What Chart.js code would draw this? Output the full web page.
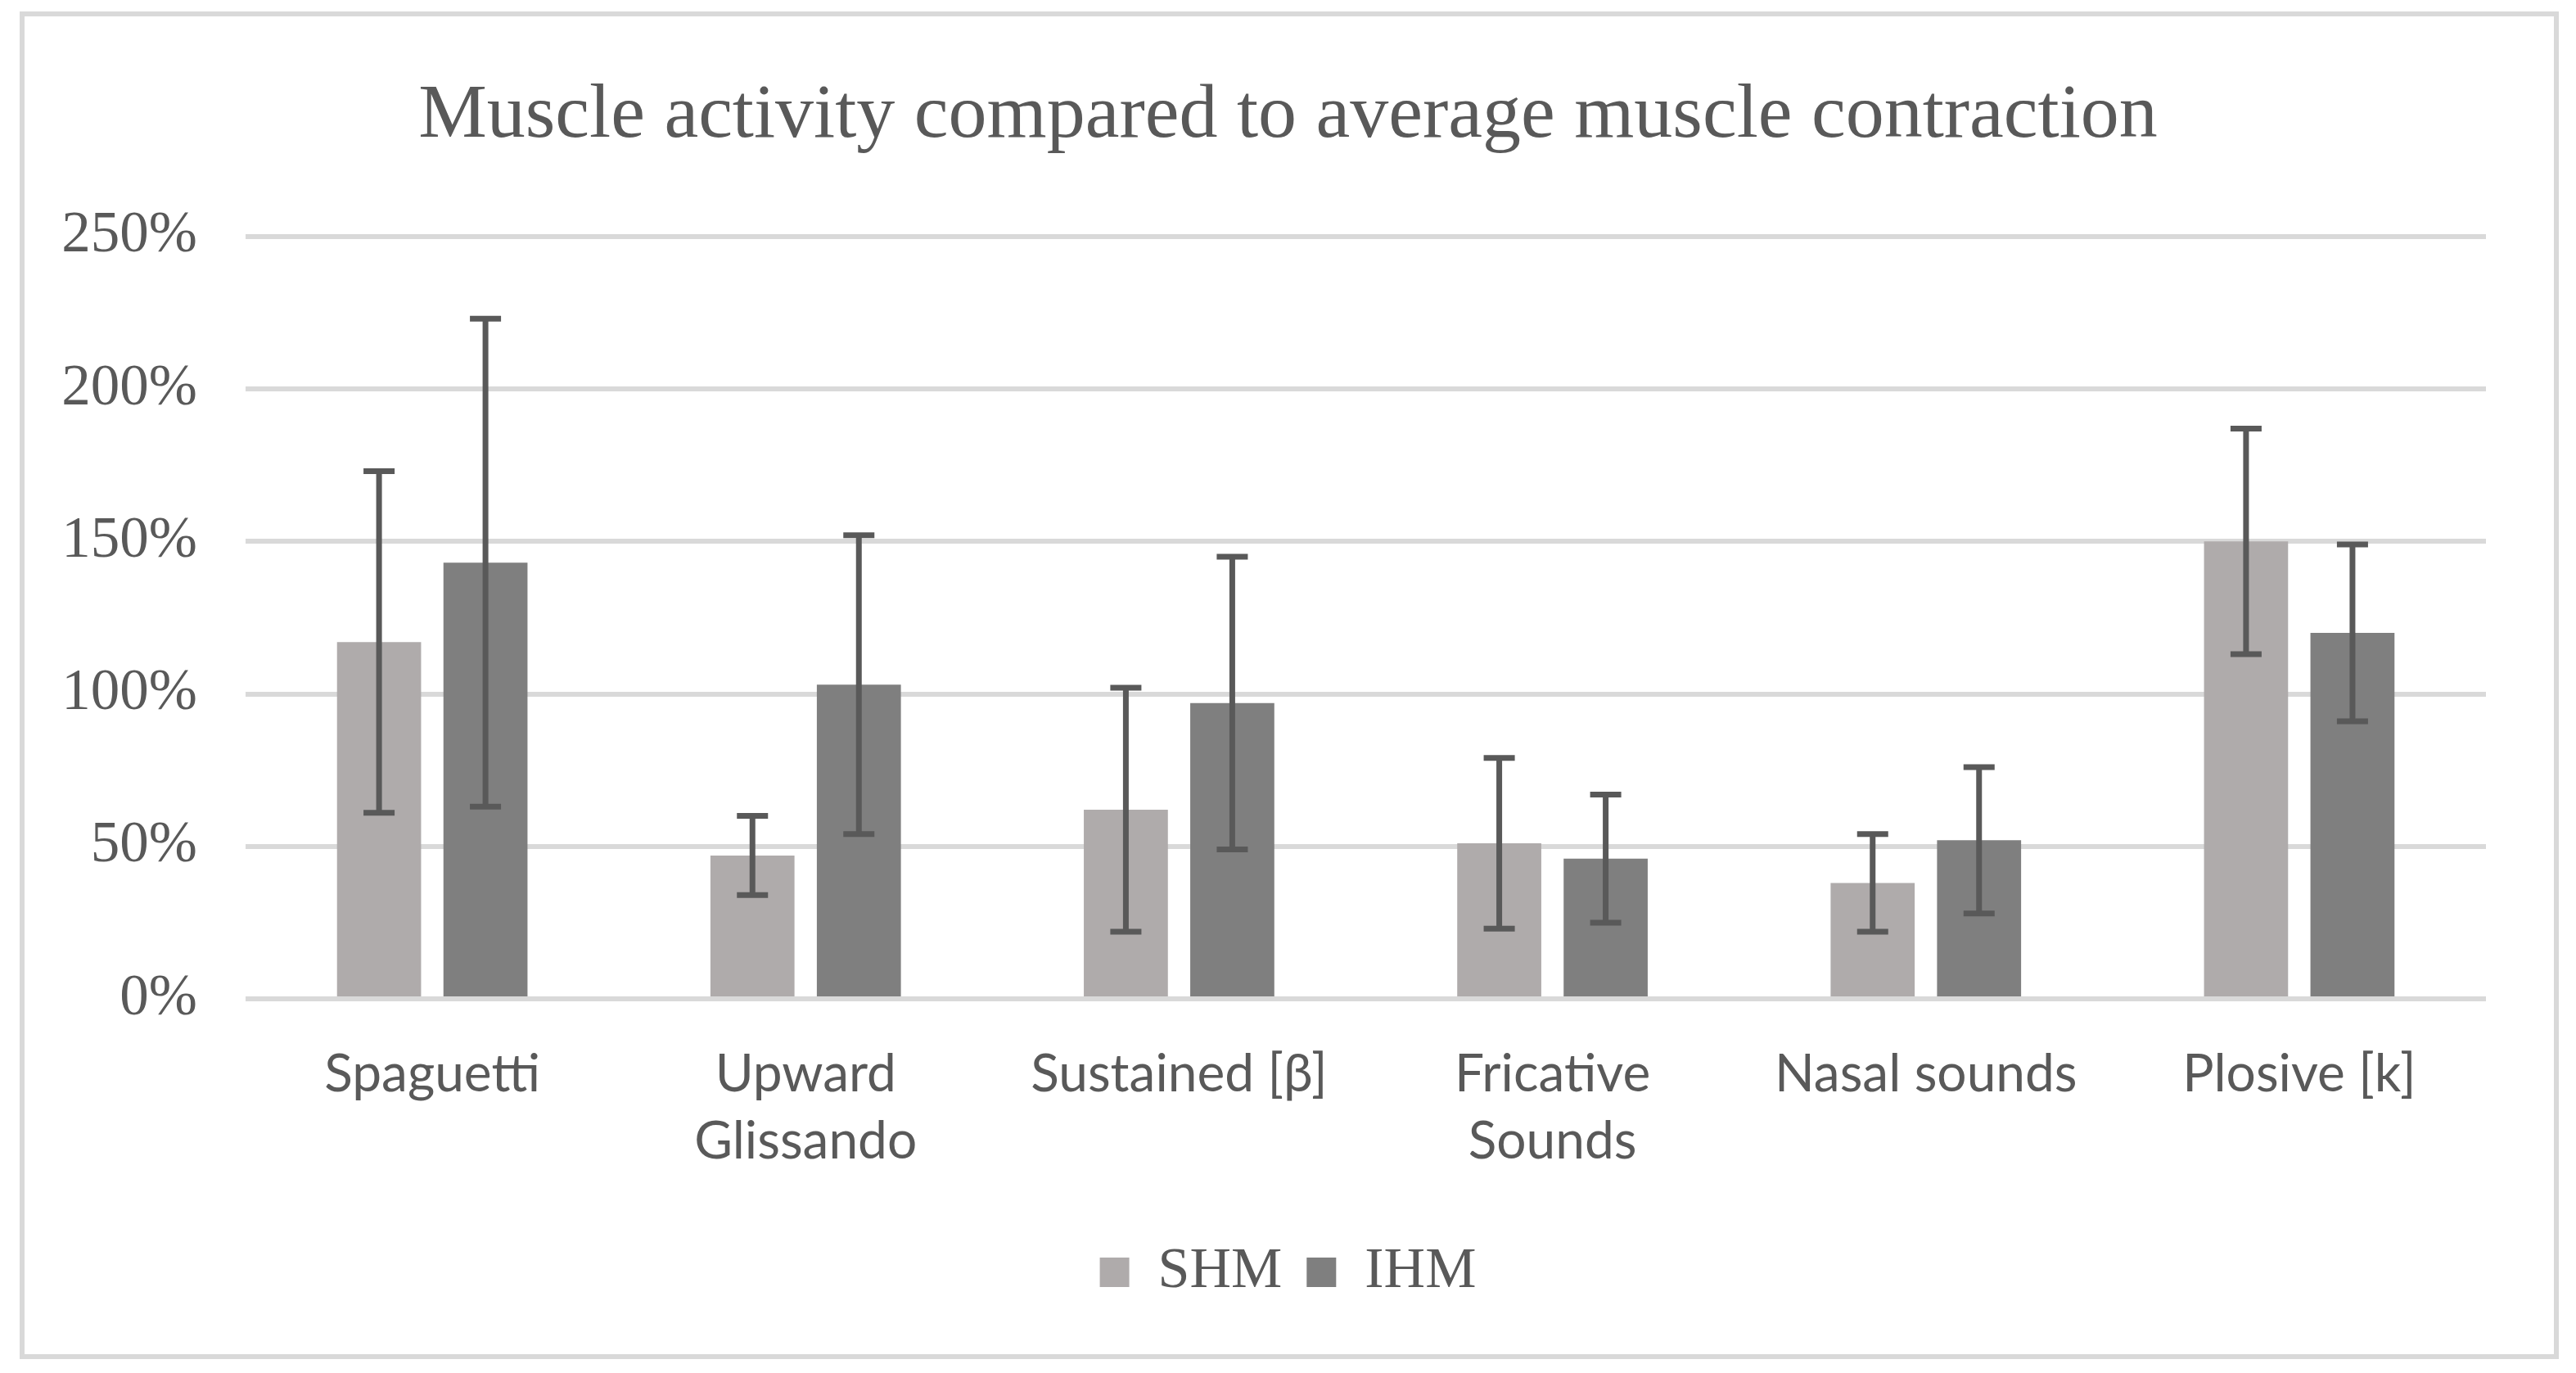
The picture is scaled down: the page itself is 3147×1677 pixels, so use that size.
<!DOCTYPE html>
<html>
<head>
<meta charset="utf-8">
<script src="https://cdn.jsdelivr.net/npm/chart.js@4.4.1/dist/chart.umd.min.js"></script>
<style>
  html, body { margin: 0; padding: 0; background: #fff; }
  canvas { display: block; }
</style>
</head>
<body>
<canvas id="muscle-chart" width="3147" height="1677"></canvas>
<script>
// values (percent of average contraction)
const categories = ['Spaguetti', ['Upward', 'Glissando'], 'Sustained [β]', ['Fricative', 'Sounds'], 'Nasal sounds', 'Plosive [k]'];
const shmValues = [117, 47, 62, 51, 38, 150];
const ihmValues = [143, 103, 97, 46, 52, 120];
const shmErrors = [56, 13, 40, 28, 16, 37];
const ihmErrors = [80, 49, 48, 21, 24, 29];
const yTicks = [0, 50, 100, 150, 200, 250];

const textGrey = '#595959';

// outer frame + white background
const framePlugin = {
  id: 'frame',
  beforeDraw(chart) {
    const ctx = chart.ctx;
    ctx.save();
    ctx.fillStyle = '#fff';
    ctx.fillRect(0, 0, chart.width, chart.height);
    ctx.strokeStyle = '#D9D9D9';
    ctx.lineWidth = 6;
    ctx.strokeRect(27, 17, 3096, 1640);
    ctx.restore();
  }
};

// error bars, from the error arrays through the y scale
const errorBarPlugin = {
  id: 'errorBars',
  afterDatasetsDraw(chart) {
    const ctx = chart.ctx;
    const y = chart.scales.y;
    const errs = [shmErrors, ihmErrors];
    ctx.save();
    ctx.strokeStyle = '#595959';
    ctx.lineWidth = 7;
    chart.data.datasets.forEach((ds, i) => {
      chart.getDatasetMeta(i).data.forEach((bar, j) => {
        const v = ds.data[j], e = errs[i][j];
        const top = y.getPixelForValue(v + e);
        const bot = y.getPixelForValue(v - e);
        const cap = 19;
        ctx.beginPath();
        ctx.moveTo(bar.x, top); ctx.lineTo(bar.x, bot);
        ctx.moveTo(bar.x - cap, top); ctx.lineTo(bar.x + cap, top);
        ctx.moveTo(bar.x - cap, bot); ctx.lineTo(bar.x + cap, bot);
        ctx.stroke();
      });
    });
    ctx.restore();
  }
};

const data = {
  labels: categories,
  datasets: [{
    label: 'SHM',
    data: shmValues,
    backgroundColor: '#AFABAB',
    categoryPercentage: 0.57,
    barPercentage: 0.79
  }, {
    label: 'IHM',
    data: ihmValues,
    backgroundColor: '#7F7F7F',
    categoryPercentage: 0.57,
    barPercentage: 0.79
  }]
};

const config = {
  type: 'bar',
  data: data,
  plugins: [framePlugin, errorBarPlugin],
  options: {
    responsive: false,
    animation: false,
    devicePixelRatio: 1,
    layout: { padding: { left: 60, right: 60, top: 20, bottom: 78 } },
    plugins: {
      title: {
        display: true,
        text: 'Muscle activity compared to average muscle contraction',
        color: textGrey,
        font: { family: 'Liberation Serif', size: 94, weight: 'normal' },
        padding: { top: 66, bottom: 90 }
      },
      legend: {
        position: 'bottom',
        labels: {
          color: textGrey,
          boxWidth: 36,
          boxHeight: 36,
          padding: 30,
          font: { family: 'Liberation Serif', size: 70 }
        }
      },
      tooltip: { enabled: false }
    },
    scales: {
      x: {
        grid: { display: false, drawTicks: false },
        border: { display: false },
        ticks: {
          color: textGrey,
          padding: 51,
          autoSkip: false,
          maxRotation: 0,
          font: { family: 'Lato', size: 64, lineHeight: 1.28 }
        },
        afterFit(scale) { scale.height = 269; }
      },
      y: {
        min: 0,
        max: 250,
        afterBuildTicks(scale) { scale.ticks = yTicks.map(v => ({ value: v })); },
        grid: { color: '#D9D9D9', lineWidth: 6, drawTicks: false },
        border: { display: false },
        ticks: {
          color: textGrey,
          padding: 59,
          font: { family: 'Liberation Serif', size: 71 },
          callback: v => v + '%'
        },
        afterFit(scale) { scale.width = 240; }
      },
      // empty right-hand spacer so the plot ends where the reference's does
      spacer: {
        type: 'linear',
        position: 'right',
        grid: { display: false, drawTicks: false },
        border: { display: false },
        ticks: { display: false },
        afterFit(scale) { scale.width = 50; }
      }
    }
  }
};

const chart = new Chart(document.getElementById('muscle-chart'), config);
</script>
</body>
</html>
